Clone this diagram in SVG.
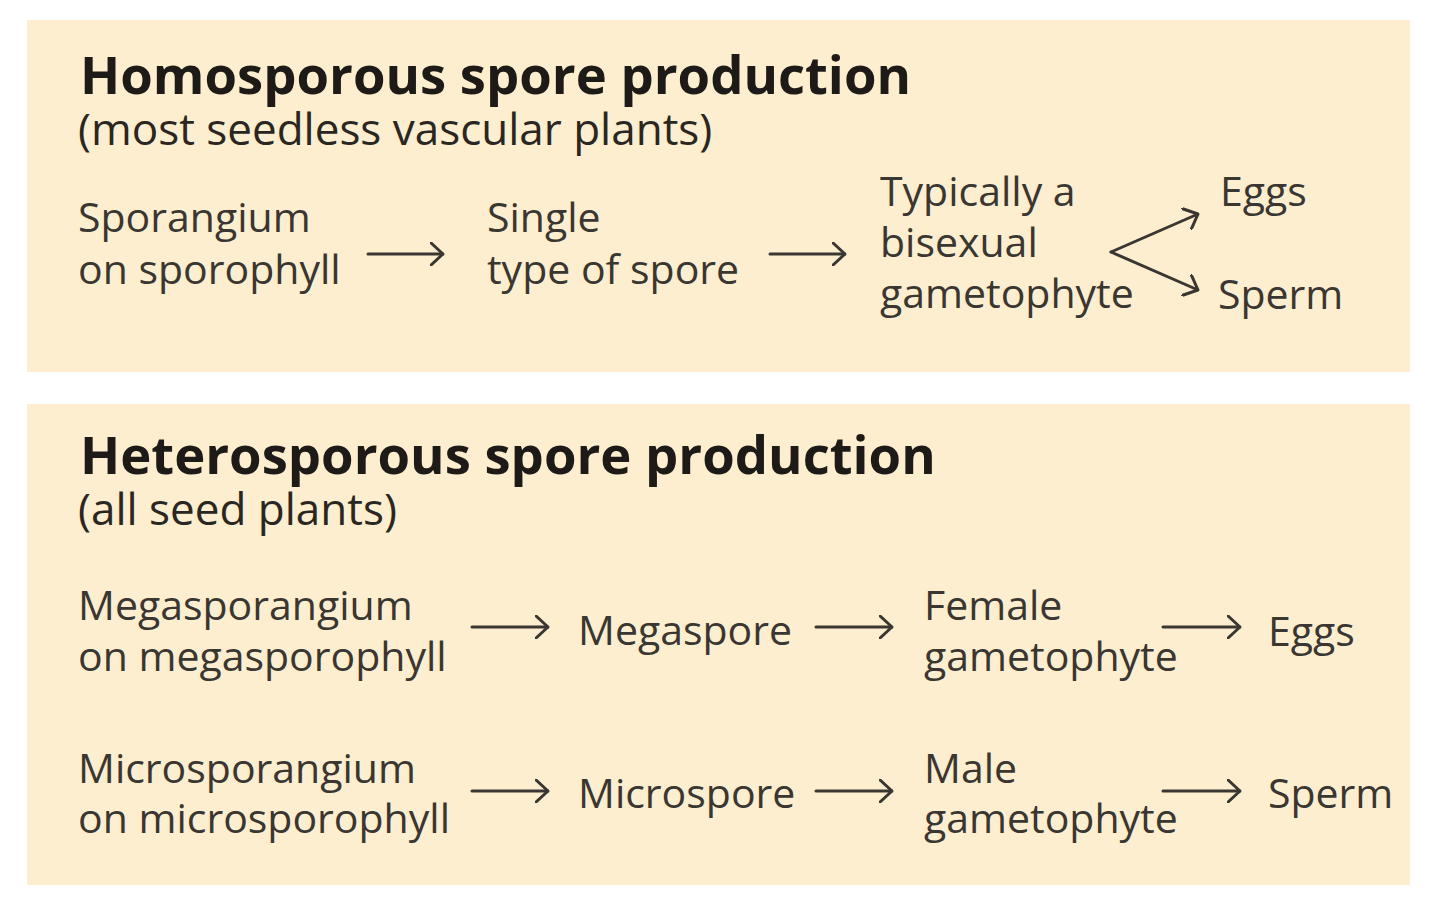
<svg xmlns="http://www.w3.org/2000/svg" width="1440" height="913" viewBox="0 0 1440 913">
<defs>
<style>
.panel{fill:#fdeecf}
.t{font-family:"Open Sans","Noto Sans","Liberation Sans",sans-serif;font-size:41px;fill:#3a3631}
.s{font-family:"Open Sans","Noto Sans","Liberation Sans",sans-serif;font-size:44px;fill:#2a2723}
.h{font-family:"Open Sans","Noto Sans","Liberation Sans",sans-serif;font-size:52.6px;font-weight:bold;fill:#1d1a17}
.c{stroke:#3a3631;stroke-width:3;fill:none;stroke-linecap:round;stroke-linejoin:round}
</style>
<marker id="ah" viewBox="0 0 14 24" refX="13" refY="12" markerWidth="14" markerHeight="24" markerUnits="userSpaceOnUse" orient="auto">
<path d="M1,1 L13,12 L1,23" fill="none" stroke="#3a3631" stroke-width="3" stroke-linecap="round" stroke-linejoin="round"/>
</marker>
</defs>
<rect width="1440" height="913" fill="#ffffff"/>
<rect class="panel" x="27" y="20" width="1383" height="352"/>
<rect class="panel" x="27" y="404" width="1383" height="481"/>

<g id="title1"><text class="h" x="80" y="94">Homosporous spore production</text>
<text class="s" x="78" y="145">(most seedless vascular plants)</text></g>
<g id="sporangium"><text class="t" x="78" y="232">Sporangium</text><text class="t" x="78" y="284">on sporophyll</text></g>
<g id="single"><text class="t" x="487" y="232">Single</text><text class="t" x="487" y="284">type of spore</text></g>
<g id="bisexual"><text class="t" x="880" y="206">Typically a</text><text class="t" x="880" y="257">bisexual</text><text class="t" x="880" y="308">gametophyte</text></g>
<g id="eggs1"><text class="t" x="1220" y="206">Eggs</text></g>
<g id="sperm1"><text class="t" x="1218" y="309">Sperm</text></g>

<g id="title2"><text class="h" x="80" y="474">Heterosporous spore production</text>
<text class="s" x="78" y="525">(all seed plants)</text></g>
<g id="megasporangium"><text class="t" x="78" y="620">Megasporangium</text><text class="t" x="78" y="671">on megasporophyll</text></g>
<g id="megaspore"><text class="t" x="578" y="645">Megaspore</text></g>
<g id="female"><text class="t" x="924" y="620">Female</text><text class="t" x="924" y="671">gametophyte</text></g>
<g id="eggs2"><text class="t" x="1268" y="646">Eggs</text></g>
<g id="microsporangium"><text class="t" x="78" y="783">Microsporangium</text><text class="t" x="78" y="833">on microsporophyll</text></g>
<g id="microspore"><text class="t" x="578" y="808">Microspore</text></g>
<g id="male"><text class="t" x="924" y="783">Male</text><text class="t" x="924" y="833">gametophyte</text></g>
<g id="sperm2"><text class="t" x="1268" y="808">Sperm</text></g>

<g id="connectors">
<line class="c" x1="368" y1="254" x2="443" y2="254" marker-end="url(#ah)"/>
<line class="c" x1="770" y1="254" x2="845" y2="254" marker-end="url(#ah)"/>
<line class="c" x1="1111" y1="252" x2="1198" y2="214" marker-end="url(#ah)"/>
<line class="c" x1="1111" y1="252" x2="1198" y2="290" marker-end="url(#ah)"/>
<line class="c" x1="472" y1="627" x2="548" y2="627" marker-end="url(#ah)"/>
<line class="c" x1="816" y1="627" x2="892" y2="627" marker-end="url(#ah)"/>
<line class="c" x1="1163" y1="627" x2="1240" y2="627" marker-end="url(#ah)"/>
<line class="c" x1="472" y1="791" x2="548" y2="791" marker-end="url(#ah)"/>
<line class="c" x1="816" y1="791" x2="892" y2="791" marker-end="url(#ah)"/>
<line class="c" x1="1163" y1="791" x2="1240" y2="791" marker-end="url(#ah)"/>
</g>
</svg>
